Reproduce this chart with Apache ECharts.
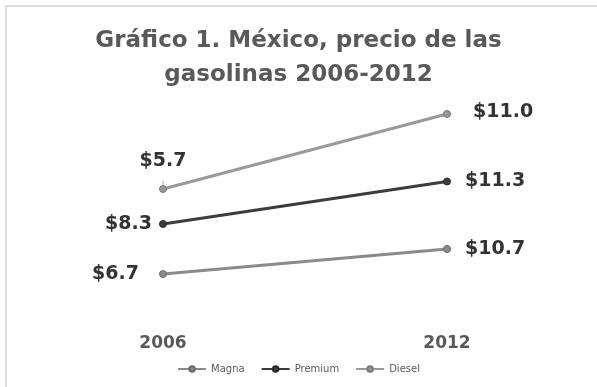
<!DOCTYPE html>
<html>
<head>
<meta charset="utf-8">
<script src="https://cdn.jsdelivr.net/npm/echarts@6/dist/echarts.min.js"></script>
<style>html,body{margin:0;padding:0;background:#fff}#c{width:597px;height:387px}</style>
</head>
<body>
<div id="c"></div>
<script>
var years = ['2006', '2012'];
var seriesNames = ['Magna', 'Premium', 'Diesel'];
var magnaLevel = [1.6, 2.6];
var premiumLevel = [3.6, 5.3];
var dieselLevel = [5.0, 8.0];
// data label texts as printed on the chart
var magnaLabels = ['$6.7', '$10.7'];
var premiumLabels = ['$8.3', '$11.3'];
var dieselLabels = ['$5.7', '$11.0'];

var chart = echarts.init(document.getElementById('c'));
var labelFont = {fontFamily: 'DejaVu Sans', fontWeight: 'bold', fontSize: 19, color: '#333333'};

function mk(name, data, labels, color, border, pos2006, pos2012, guides) {
  return {
    name: name,
    type: 'line',
    symbol: 'circle',
    symbolSize: 7,
    lineStyle: {color: color, width: 3},
    itemStyle: {color: color, borderColor: border, borderWidth: 1},
    label: Object.assign({
      show: true,
      formatter: function (p) { return labels[p.dataIndex]; }
    }, labelFont),
    labelLine: {show: false, lineStyle: {color: '#b0b0b0', width: 1}},
    data: data.map(function (v, i) {
      var pos = i === 0 ? pos2006 : pos2012;
      return {
        value: v,
        label: {position: pos.position, distance: pos.distance, offset: pos.offset || [0, 0]},
        labelLine: {show: !!guides[i], lineStyle: {color: '#b0b0b0', width: 1}}
      };
    })
  };
}

chart.setOption({
  animation: false,
  graphic: [{
    type: 'rect', shape: {x: 6, y: 6, width: 700, height: 500},
    style: {fill: 'none', stroke: '#dcdcdc', lineWidth: 2}, silent: true
  }],
  title: {
    text: 'Gráfico 1. México, precio de las\ngasolinas 2006-2012',
    left: 'center', top: 19,
    textStyle: {fontFamily: 'DejaVu Sans', fontWeight: 'bold', fontSize: 23, color: '#595959', lineHeight: 34}
  },
  legend: {
    data: seriesNames,
    bottom: 8, left: 'center',
    itemWidth: 28, itemHeight: 7, itemGap: 16,
    textStyle: {fontFamily: 'DejaVu Sans', fontSize: 10, color: '#595959'}
  },
  grid: {left: 163, right: 150, top: 64, bottom: 73},
  xAxis: {
    type: 'category', data: years, boundaryGap: false,
    axisLine: {show: false}, axisTick: {show: false}, splitLine: {show: false},
    axisLabel: {margin: 21, fontFamily: 'DejaVu Sans', fontWeight: 'bold', fontSize: 17, color: '#595959'}
  },
  yAxis: {type: 'value', min: 0, max: 10, show: false, splitLine: {show: false}},
  series: [
    mk('Magna', magnaLevel, magnaLabels, '#8a8a8a', '#6a6a6a', {position: 'left', distance: 20}, {position: 'right', distance: 14}, [1, 0]),
    mk('Premium', premiumLevel, premiumLabels, '#3c3c3c', '#2a2a2a', {position: 'left', distance: 7}, {position: 'right', distance: 14}, [0, 0]),
    mk('Diesel', dieselLevel, dieselLabels, '#999999', '#777777', {position: 'top', distance: 14}, {position: 'right', distance: 22, offset: [0, -2]}, [1, 0])
  ]
});
</script>
</body>
</html>
